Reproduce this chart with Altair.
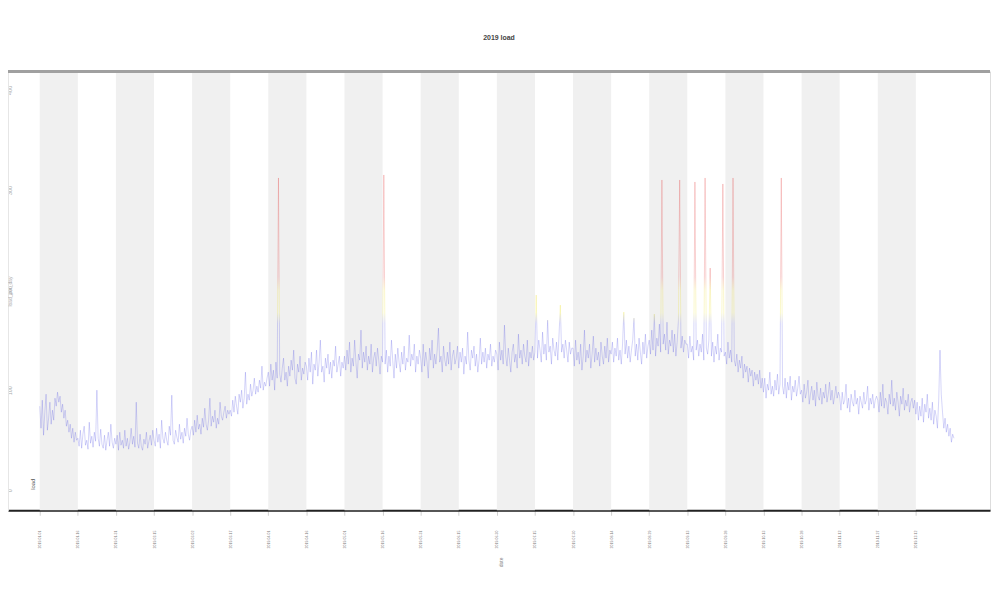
import altair as alt
import pandas as pd

# half-daily values (day 0 .. 360, step 0.5)
load = [
    84, 62, 90, 55, 78, 96, 60, 72, 88, 66, 80, 70, 92, 84, 98, 88, 94, 78, 86, 72, 80, 64, 70, 58, 66, 52, 62, 48, 58, 50,
    52, 44, 60, 42, 56, 64, 45, 50, 41, 68, 47, 54, 43, 58, 49, 100, 52, 44, 61, 46, 42, 55, 40, 50, 58, 44, 66, 48, 42, 52,
    46, 55, 40, 58, 45, 50, 42, 60, 44, 52, 41, 48, 62, 46, 54, 43, 88, 47, 42, 56, 44, 40, 51, 46, 58, 42, 49, 55, 45, 60,
    50, 44, 62, 48, 56, 42, 70, 52, 47, 58, 50, 45, 64, 55, 95, 50, 46, 60, 53, 48, 66, 51, 58, 47, 62, 54, 72, 56, 50, 60,
    64, 55, 70, 58, 75, 61, 66, 56, 72, 63, 82, 66, 60, 70, 92, 64, 74, 68, 80, 62, 72, 66, 88, 74, 70, 78, 84, 72, 80, 76,
    80, 74, 90, 78, 94, 84, 76, 96, 88, 100, 82, 92, 118, 86, 96, 90, 106, 94, 100, 112, 96, 104, 98, 110, 102, 124, 100, 108, 104, 112,
    118, 104, 126, 110, 120, 100, 128, 112, 312, 116, 108, 122, 132, 110, 118, 104, 124, 114, 130, 120, 140, 112, 106, 126, 118, 134, 110, 122, 116, 128,
    124, 110, 132, 118, 138, 106, 126, 120, 140, 114, 128, 150, 118, 124, 108, 132, 122, 136, 116, 128, 112, 130, 124, 144, 118, 126, 134, 114, 128, 122,
    134, 120, 140, 126, 148, 118, 132, 124, 150, 128, 112, 136, 130, 160, 122, 138, 128, 144, 120, 134, 126, 146, 118, 132, 138, 124, 142, 130, 116, 134,
    128, 315, 126, 140, 118, 134, 124, 150, 130, 112, 136, 122, 142, 128, 118, 138, 126, 144, 120, 132, 128, 155, 124, 136, 130, 146, 118, 134, 126, 140,
    132, 118, 146, 124, 138, 128, 112, 142, 130, 150, 122, 136, 126, 140, 162, 128, 134, 118, 144, 130, 124, 138, 126, 148, 120, 134, 140, 126, 132, 144,
    122, 138, 128, 142, 116, 134, 126, 158, 130, 120, 140, 132, 144, 124, 136, 118, 130, 152, 126, 138, 128, 142, 122, 136, 130, 146, 124, 134, 128, 140,
    136, 120, 148, 130, 140, 126, 165, 134, 124, 142, 130, 118, 138, 146, 128, 136, 122, 156, 132, 140, 126, 146, 134, 128, 150, 124, 138, 132, 144, 130,
    138, 195, 132, 150, 140, 128, 158, 136, 146, 130, 170, 138, 144, 126, 152, 140, 134, 148, 130, 156, 185, 138, 146, 132, 150, 140, 128, 148, 136, 142,
    142, 124, 150, 130, 138, 126, 146, 120, 134, 160, 128, 140, 132, 146, 122, 136, 154, 128, 142, 130, 138, 124, 148, 134, 126, 144, 132, 152, 128, 140,
    136, 148, 128, 142, 134, 152, 130, 140, 126, 146, 178, 136, 150, 132, 144, 128, 140, 150, 172, 134, 146, 130, 152, 138, 126, 148, 136, 156, 132, 144,
    150, 136, 160, 140, 176, 134, 152, 144, 166, 138, 310, 146, 156, 140, 168, 136, 150, 144, 160, 138, 156, 134, 148, 170, 310, 142, 154, 138, 150, 146,
    146, 132, 154, 138, 144, 130, 308, 140, 150, 134, 146, 138, 156, 130, 312, 142, 136, 150, 222, 134, 148, 128, 144, 136, 156, 130, 142, 138, 306, 134,
    138, 126, 148, 132, 140, 128, 312, 130, 124, 136, 118, 130, 122, 134, 112, 126, 118, 124, 108, 122, 114, 120, 104, 118, 110, 116, 106, 120, 102, 112,
    98, 112, 92, 106, 100, 118, 96, 104, 94, 110, 100, 116, 96, 106, 312, 104, 96, 112, 92, 108, 100, 114, 90, 104, 98, 110, 94, 102, 114, 96,
    100, 88, 106, 92, 98, 110, 86, 96, 104, 90, 100, 84, 108, 94, 90, 102, 86, 98, 92, 106, 88, 96, 108, 90, 100, 86, 94, 104, 92, 98,
    94, 80, 98, 86, 90, 106, 82, 92, 78, 96, 88, 84, 100, 86, 92, 76, 94, 88, 82, 98, 86, 90, 104, 80, 92, 86, 96, 82, 90, 94,
    90, 78, 98, 84, 106, 82, 92, 88, 76, 96, 86, 110, 84, 92, 80, 98, 88, 74, 94, 86, 102, 80, 90, 84, 96, 78, 88, 92, 82, 90,
    76, 88, 70, 84, 74, 92, 68, 86, 78, 96, 72, 82, 70, 88, 66, 80, 74, 62, 90, 140, 96, 78, 62, 72, 58, 66, 54, 62, 48, 56, 52,
]
days = [i * 0.5 for i in range(len(load))]

band_start = [0, 30, 60, 90, 120, 150, 180, 210, 240, 270, 300, 330]
band_end = [15, 45, 75, 105, 135, 165, 195, 225, 255, 285, 315, 345]
tick_days = [0, 15, 30, 45, 60, 75, 90, 105, 120, 135, 150, 165,
             180, 195, 210, 225, 240, 255, 270, 285, 300, 315, 330, 345]
y_ticks = [0, 100, 200, 300, 400]

legend_label = ["load"]
legend_day = [-2.7]
legend_value = [6]

W, H = 990, 442

df = pd.DataFrame({"day": days, "load": load})
bands = pd.DataFrame({"start": band_start, "end": band_end})
leg = pd.DataFrame({"day": legend_day, "load": legend_value, "label": legend_label})

xs = alt.Scale(domain=[-12.5, 374.2], nice=False, zero=False)
ys = alt.Scale(domain=[-20, 418], nice=False, zero=False)

x_axis = alt.Axis(
    values=tick_days,
    labelExpr="timeFormat(datetime(2019, 0, 1 + datum.value), '%Y-%m-%d')",
    labelAngle=270, labelFontSize=3.5, labelPadding=15, labelColor="#777",
    tickSize=5, tickColor="#d0d0d0", domainColor="#222222", domainWidth=2,
    grid=False, title="date", titleFontSize=5, titleAngle=270, titleY=52,
    titleColor="#888", titleFontWeight="normal",
)
y_axis = alt.Axis(
    values=y_ticks, grid=False, ticks=False, domainColor="#e6e6e6",
    labelAngle=270, labelFontSize=5.5, labelPadding=-5, labelColor="#aaa",
    title="load_per_day", titleFontSize=5, titleAngle=270, titleX=5, titleY=221,
    titleColor="#aaa", titleFontWeight="normal",
)

band_layer = alt.Chart(bands).mark_rect(color="#f0f0f0").encode(
    x=alt.X("start:Q", scale=xs, axis=x_axis),
    x2="end:Q",
    y=alt.value(0),
    y2=alt.value(H),
)

grad = alt.Gradient(
    gradient="linear",
    stops=[
        alt.GradientStop(color="#3535e0", offset=0),
        alt.GradientStop(color="#3535e0", offset=0.46),
        alt.GradientStop(color="#e8e000", offset=0.50),
        alt.GradientStop(color="#e8d000", offset=0.58),
        alt.GradientStop(color="#e02020", offset=0.63),
        alt.GradientStop(color="#e02020", offset=1),
    ],
    x1=0, x2=0, y1=1, y2=0,
)

line_layer = alt.Chart(df).mark_line(
    stroke=grad, strokeWidth=0.55, strokeOpacity=0.38
).encode(
    x=alt.X("day:Q", scale=xs, axis=x_axis),
    y=alt.Y("load:Q", scale=ys, axis=y_axis),
)

top_rule = alt.Chart(bands).mark_rule(color="#a0a0a0", strokeWidth=2.5).encode(
    x=alt.value(0), x2=alt.value(W), y=alt.value(0)
)

leg_layer = alt.Chart(leg).mark_text(
    angle=270, fontSize=6, color="#555", align="center", baseline="middle"
).encode(
    x=alt.X("day:Q", scale=xs, axis=x_axis),
    y=alt.Y("load:Q", scale=ys, axis=y_axis),
    text="label:N",
)

chart = alt.layer(band_layer, line_layer, top_rule, leg_layer).properties(
    width=W,
    height=H,
    title=alt.TitleParams("2019 load", fontSize=7, fontWeight="bold", offset=30,
                          color="#444", anchor="middle"),
    autosize=alt.AutoSizeParams(type="none"),
    padding={"left": 0, "top": 62, "right": 2, "bottom": 80},
).configure_view(stroke=None).configure(background="white")

chart.save("out.html", embed_options={"renderer": "svg", "actions": False})
